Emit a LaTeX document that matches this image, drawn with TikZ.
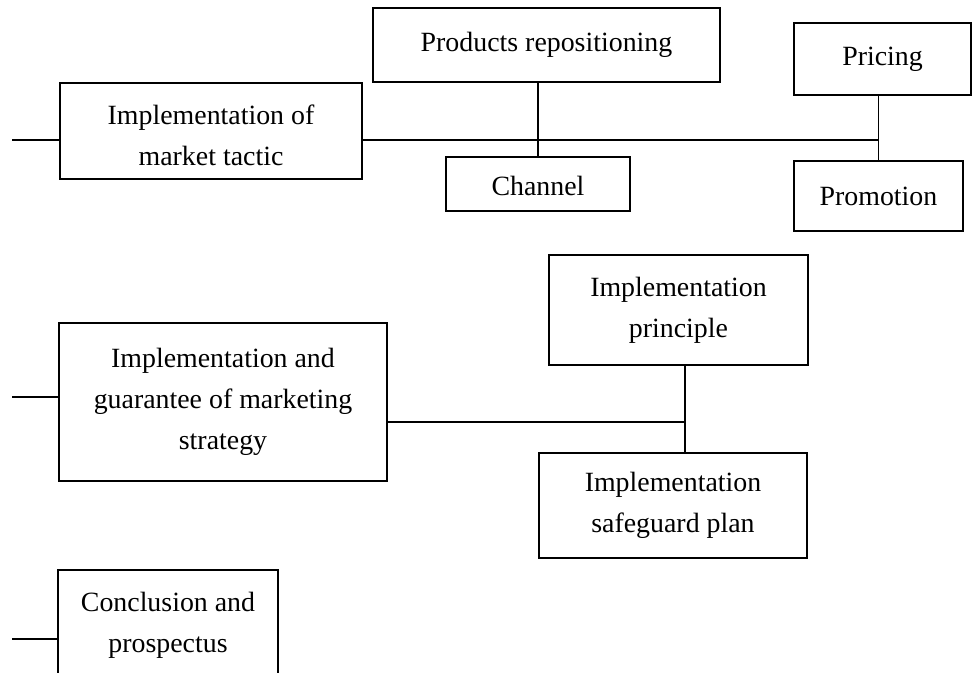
\documentclass[tikz,border=0pt]{standalone}
\usepackage{fontspec}
\setmainfont{Liberation Serif}
\begin{document}
\begin{tikzpicture}[x=0.75pt,y=-0.75pt,
  box/.style={draw,line width=0.9pt,inner sep=0pt,outer sep=0pt,align=center,
    font=\fontsize{20.9pt}{30.8pt}\selectfont},
  conn/.style={line width=0.9pt}]
\useasboundingbox (0,0) rectangle (972,673);
\clip (0,0) rectangle (972,673);
% boxes
\node[box,minimum width=226.5pt,minimum height=72pt] (b1) at (211,131) {\rule{0pt}{21.8pt}Implementation of\\market tactic};
\node[box,minimum width=260.25pt,minimum height=55.5pt] (pr) at (546.5,45) {Products repositioning};
\node[box,minimum width=138pt,minimum height=40.5pt] (ch) at (538,184) {\rule{0pt}{18pt}Channel};
\node[box,minimum width=132.75pt,minimum height=54pt] (pc) at (882.5,59) {Pricing};
\node[box,minimum width=126.75pt,minimum height=52.5pt] (pm) at (878.5,196) {Promotion};
\node[box,minimum width=246pt,minimum height=118.5pt] (b2) at (223,402) {Implementation and\\guarantee of marketing\\strategy};
\node[box,minimum width=194.25pt,minimum height=82.5pt] (ip) at (678.5,310) {Implementation\\principle};
\node[box,minimum width=201pt,minimum height=78.75pt] (sg) at (673,505.5) {Implementation\\safeguard plan};
\node[box,minimum width=165pt,minimum height=82.5pt] (b3) at (168,625) {Conclusion and\\prospectus};
% junction coordinates
\coordinate (s1) at (12,140);
\coordinate (s2) at (12,397);
\coordinate (s3) at (12,639);
\coordinate (j2) at (685,422);
% connectors
\draw[conn] (s1) -- (s1 -| b1.west);
\draw[conn] (b1.east |- s1) -- (s1 -| pm.north);
\draw[conn] (ch.north) -- (ch.north |- pr.south);
\draw[conn] (pm.north) -- (pm.north |- pc.south);
\draw[conn] (s2) -- (s2 -| b2.west);
\draw[conn] (b2.east |- j2) -- (j2);
\draw[conn] (j2 |- ip.south) -- (j2 |- sg.north);
\draw[conn] (s3) -- (s3 -| b3.west);
\end{tikzpicture}
\end{document}
